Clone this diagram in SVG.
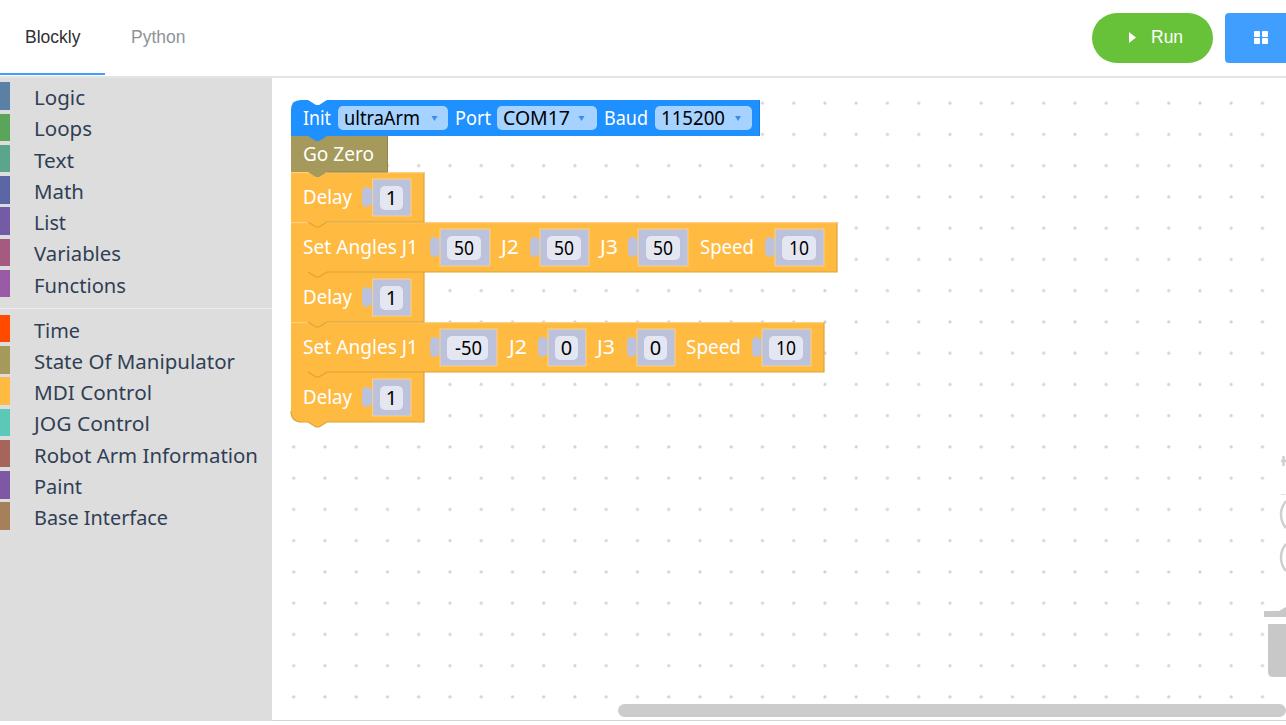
<svg xmlns="http://www.w3.org/2000/svg" width="1286" height="725" viewBox="0 0 1286 725">
<style>
.tab{font:17.5px "Liberation Sans",Arial,sans-serif}
.cat{font:20px "Noto Sans","Open Sans",sans-serif;fill:#303f55}
.bt{font:20px "Noto Sans","Open Sans",sans-serif;fill:#fff}
.ft{font:20px "Noto Sans","Open Sans",sans-serif;fill:#000}
.sock{fill:#bcc2dc;stroke:#ffd48a;stroke-width:.8}
.plug{fill:#bcc2dc}
.fld{fill:#e4e7f1}
.dd{fill:#a5d2ff}
.arr{fill:#3a8eea}
.or{fill:#ffba42}
.edge{fill:none;stroke:#dca335;stroke-width:1.2}
.hi{fill:none;stroke:#ffcf7a;stroke-width:1.2}
.grey{fill:#c8c8c8}
.zoom{fill:none;stroke:#cfcfcf;stroke-width:2.5}
</style>
<defs>
<pattern id="dots" patternUnits="userSpaceOnUse" x="-3.15" y="-6.15" width="31.25" height="31.25"><circle cx="15.6" cy="15.6" r="1.6" fill="#d2d2d2"/></pattern>
<path id="plug" class="plug" d="M1 1 C-2 2 -3 -1 -6 -1 C-10 -1 -10 4 -10 9 C-10 14 -10 19 -6 19 C-3 19 -2 16 1 17 Z"/>
</defs>
<rect width="1286" height="725" fill="#fff"/>
<g id="header">
<rect x="0" y="76" width="1286" height="2" fill="#e4e4e4"/>
<rect x="0" y="73" width="105" height="2" fill="#409eff"/>
<text class="tab" x="25" y="43" fill="#303133">Blockly</text>
<text class="tab" x="131" y="43" fill="#909399">Python</text>
</g>
<g id="run-button">
<rect x="1092" y="13" width="121" height="50" rx="25" fill="#67c23a"/>
<path d="M1129 32 L1136 37.500 L1129 43 Z" fill="#fff"/>
<text class="tab" x="1151" y="43" fill="#fff">Run</text>
</g>
<g id="grid-button">
<path d="M1286 13 H1229 a4 4 0 0 0 -4 4 V59 a4 4 0 0 0 4 4 H1286 Z" fill="#409eff"/>
<rect x="1254" y="31" width="6" height="6" rx="1" fill="#fff"/><rect x="1262" y="31" width="6" height="6" rx="1" fill="#fff"/><rect x="1254" y="38" width="6" height="6" rx="1" fill="#fff"/><rect x="1262" y="38" width="6" height="6" rx="1" fill="#fff"/>
</g>
<g id="toolbox">
<rect x="0" y="78" width="272" height="643" fill="#ddd"/>
<rect x="0" y="308" width="272" height="1" fill="#ebebeb"/>
<rect y="82" width="10" height="28" fill="#5b80a5"/><text class="cat" x="34" y="105" textLength="51" lengthAdjust="spacingAndGlyphs">Logic</text>
<rect y="114" width="10" height="27" fill="#5ba55b"/><text class="cat" x="34" y="136" textLength="58" lengthAdjust="spacingAndGlyphs">Loops</text>
<rect y="145" width="10" height="27" fill="#5ba58c"/><text class="cat" x="34" y="168" textLength="40" lengthAdjust="spacingAndGlyphs">Text</text>
<rect y="176" width="10" height="28" fill="#5b67a5"/><text class="cat" x="34" y="199" textLength="50" lengthAdjust="spacingAndGlyphs">Math</text>
<rect y="207" width="10" height="28" fill="#745ba5"/><text class="cat" x="34" y="230" textLength="32" lengthAdjust="spacingAndGlyphs">List</text>
<rect y="239" width="10" height="27" fill="#a55b80"/><text class="cat" x="34" y="261" textLength="87" lengthAdjust="spacingAndGlyphs">Variables</text>
<rect y="270" width="10" height="27" fill="#995ba5"/><text class="cat" x="34" y="293" textLength="92" lengthAdjust="spacingAndGlyphs">Functions</text>
<rect y="315" width="10" height="27" fill="#ff4a00"/><text class="cat" x="34" y="338" textLength="46" lengthAdjust="spacingAndGlyphs">Time</text>
<rect y="346" width="10" height="28" fill="#a5995b"/><text class="cat" x="34" y="369" textLength="201" lengthAdjust="spacingAndGlyphs">State Of Manipulator</text>
<rect y="377" width="10" height="28" fill="#ffba42"/><text class="cat" x="34" y="400" textLength="118" lengthAdjust="spacingAndGlyphs">MDI Control</text>
<rect y="409" width="10" height="27" fill="#5cc8b8"/><text class="cat" x="34" y="431" textLength="116" lengthAdjust="spacingAndGlyphs">JOG Control</text>
<rect y="440" width="10" height="27" fill="#a5655b"/><text class="cat" x="34" y="463" textLength="224" lengthAdjust="spacingAndGlyphs">Robot Arm Information</text>
<rect y="471" width="10" height="28" fill="#7e57a5"/><text class="cat" x="34" y="494" textLength="48" lengthAdjust="spacingAndGlyphs">Paint</text>
<rect y="502" width="10" height="28" fill="#a5805b"/><text class="cat" x="34" y="525" textLength="134" lengthAdjust="spacingAndGlyphs">Base Interface</text>
</g>
<g id="workspace">
<rect x="272" y="78" width="1014" height="642" fill="url(#dots)"/>
<path class="zoom" d="M1281 461 H1286 M1283.500 456 V466"/>
<path d="M1281 494.500 H1286" stroke="#e4e4e4" fill="none"/>
<path class="zoom" d="M1286 501 A20.700 20.700 0 0 0 1286 528"/>
<path class="zoom" d="M1286 544 A20.700 20.700 0 0 0 1286 571"/>
<path class="grey" d="M1264 611 L1279 611 L1286 607 V617 L1264 617 Z"/>
<path class="grey" d="M1268 624 H1286 V677 H1273 Q1268 677 1268 672 Z"/>
<rect x="618" y="704" width="668" height="13" rx="6.500" fill="#ccc"/>
<rect x="272" y="720" width="1014" height="1" fill="#d4d4d4"/>
</g>
<g id="connectors"></g>
<g id="block-delay-3">
<path class="or" d="M291 372 H424 V422 H327 L319 427 H316 L308 422 H302 Q291 422 291 411 Z"/>
<path class="edge" d="M424 372 V422 H327 L319 427 H316 L308 422 H302 Q291 422 291 411"/>
<use href="#plug" x="372" y="388"/><rect class="sock" x="372.500" y="379" width="38.500" height="37"/>
<rect class="fld" x="380" y="386" width="23" height="24" rx="5"/>
<text class="ft" x="391.500" y="405" text-anchor="middle">1</text>
<text class="bt" x="303" y="404" textLength="49" lengthAdjust="spacingAndGlyphs">Delay</text>
</g>
<g id="block-angles-2">
<path class="or" d="M291 322 H824 V372 H327 L319 377 H316 L308 372 H291 Z"/>
<path class="edge" d="M824 322 V372 H327 L319 377 H316 L308 372"/>
<path class="hi" d="M291 322.600 H824"/>
<text class="bt" x="303" y="354" textLength="115" lengthAdjust="spacingAndGlyphs">Set Angles J1</text>
<use href="#plug" x="440" y="338"/><rect class="sock" x="440" y="329" width="57" height="37"/><rect class="fld" x="447" y="336" width="41" height="24" rx="5"/><text class="ft" x="468.500" y="355" text-anchor="middle" textLength="27" lengthAdjust="spacingAndGlyphs">-50</text>
<text class="bt" x="509" y="354" textLength="18" lengthAdjust="spacingAndGlyphs">J2</text>
<use href="#plug" x="548" y="338"/><rect class="sock" x="548" y="329" width="38" height="37"/><rect class="fld" x="555" y="336" width="23" height="24" rx="5"/><text class="ft" x="566.500" y="355" text-anchor="middle">0</text>
<text class="bt" x="597" y="354" textLength="18" lengthAdjust="spacingAndGlyphs">J3</text>
<use href="#plug" x="637" y="338"/><rect class="sock" x="637" y="329" width="38" height="37"/><rect class="fld" x="644" y="336" width="23" height="24" rx="5"/><text class="ft" x="655.500" y="355" text-anchor="middle">0</text>
<text class="bt" x="686" y="354" textLength="55" lengthAdjust="spacingAndGlyphs">Speed</text>
<use href="#plug" x="762" y="338"/><rect class="sock" x="762" y="329" width="49" height="37"/><rect class="fld" x="769" y="336" width="34" height="24" rx="5"/><text class="ft" x="786" y="355" text-anchor="middle" textLength="20" lengthAdjust="spacingAndGlyphs">10</text>
</g>
<g id="block-delay-2">
<path class="or" d="M291 272 H424 V322 H327 L319 327 H316 L308 322 H291 Z"/>
<path class="edge" d="M424 272 V322 H327 L319 327 H316 L308 322"/>
<use href="#plug" x="372" y="288"/><rect class="sock" x="372.500" y="279" width="38.500" height="37"/>
<rect class="fld" x="380" y="286" width="23" height="24" rx="5"/>
<text class="ft" x="391.500" y="305" text-anchor="middle">1</text>
<text class="bt" x="303" y="304" textLength="49" lengthAdjust="spacingAndGlyphs">Delay</text>
</g>
<g id="block-angles-1">
<path class="or" d="M291 222 H837 V272 H327 L319 277 H316 L308 272 H291 Z"/>
<path class="edge" d="M837 222 V272 H327 L319 277 H316 L308 272"/>
<path class="hi" d="M291 222.600 H837"/>
<text class="bt" x="303" y="254" textLength="115" lengthAdjust="spacingAndGlyphs">Set Angles J1</text>
<use href="#plug" x="440" y="238"/><rect class="sock" x="440" y="229" width="50" height="37"/><rect class="fld" x="447" y="236" width="34" height="24" rx="5"/><text class="ft" x="464" y="255" text-anchor="middle" textLength="20" lengthAdjust="spacingAndGlyphs">50</text>
<text class="bt" x="501" y="254" textLength="18" lengthAdjust="spacingAndGlyphs">J2</text>
<use href="#plug" x="540" y="238"/><rect class="sock" x="540" y="229" width="49" height="37"/><rect class="fld" x="547" y="236" width="34" height="24" rx="5"/><text class="ft" x="564" y="255" text-anchor="middle" textLength="20" lengthAdjust="spacingAndGlyphs">50</text>
<text class="bt" x="600" y="254" textLength="18" lengthAdjust="spacingAndGlyphs">J3</text>
<use href="#plug" x="638" y="238"/><rect class="sock" x="638" y="229" width="50" height="37"/><rect class="fld" x="646" y="236" width="34" height="24" rx="5"/><text class="ft" x="663" y="255" text-anchor="middle" textLength="20" lengthAdjust="spacingAndGlyphs">50</text>
<text class="bt" x="700" y="254" textLength="54" lengthAdjust="spacingAndGlyphs">Speed</text>
<use href="#plug" x="775" y="238"/><rect class="sock" x="775" y="229" width="49" height="37"/><rect class="fld" x="782" y="236" width="34" height="24" rx="5"/><text class="ft" x="799" y="255" text-anchor="middle" textLength="20" lengthAdjust="spacingAndGlyphs">10</text>
</g>
<g id="block-delay-1">
<path class="or" d="M291 172 H424 V222 H327 L319 227 H316 L308 222 H291 Z"/>
<path class="edge" d="M424 172 V222 H327 L319 227 H316 L308 222"/>
<path class="hi" d="M291 172.600 H424"/>
<use href="#plug" x="372" y="188"/><rect class="sock" x="372.500" y="179" width="38.500" height="37"/>
<rect class="fld" x="380" y="186" width="23" height="24" rx="5"/>
<text class="ft" x="391.500" y="205" text-anchor="middle">1</text>
<text class="bt" x="303" y="204" textLength="49" lengthAdjust="spacingAndGlyphs">Delay</text>
</g>
<g id="block-go-zero">
<path d="M291 136 H387.500 V172 H327 L319 177 H316 L308 172 H291 Z" fill="#a5995b"/>
<path d="M387.500 136 V172 H327" fill="none" stroke="#8f8550" stroke-width="1"/>
<text class="bt" x="303" y="161" textLength="71" lengthAdjust="spacingAndGlyphs">Go Zero</text>
</g>
<g id="block-init">
<path d="M301 100 H308 L316 105 H319 L327 100 H759.500 V136 H327 L319 141 H316 L308 136 H291 V110 Q291 100 301 100 Z" fill="#1e90ff"/>
<path d="M759.500 100 V136" fill="none" stroke="#1a7fdf" stroke-width="1"/>
<text class="bt" x="303" y="125" textLength="28" lengthAdjust="spacingAndGlyphs">Init</text>
<rect class="dd" x="338" y="106" width="110" height="24" rx="5"/><text class="ft" x="344" y="125" textLength="76" lengthAdjust="spacingAndGlyphs">ultraArm</text><path class="arr" d="M431.500 116 H437.500 L434.500 121 Z"/>
<text class="bt" x="455" y="125" textLength="36" lengthAdjust="spacingAndGlyphs">Port</text>
<rect class="dd" x="497" y="106" width="100" height="24" rx="5"/><text class="ft" x="503" y="125" textLength="67" lengthAdjust="spacingAndGlyphs">COM17</text><path class="arr" d="M578.500 116 H584.500 L581.500 121 Z"/>
<text class="bt" x="604" y="125" textLength="44" lengthAdjust="spacingAndGlyphs">Baud</text>
<rect class="dd" x="655" y="106" width="97" height="24" rx="5"/><text class="ft" x="661" y="125" textLength="64" lengthAdjust="spacingAndGlyphs">115200</text><path class="arr" d="M735 116 H741 L738 121 Z"/>
</g>
</svg>
